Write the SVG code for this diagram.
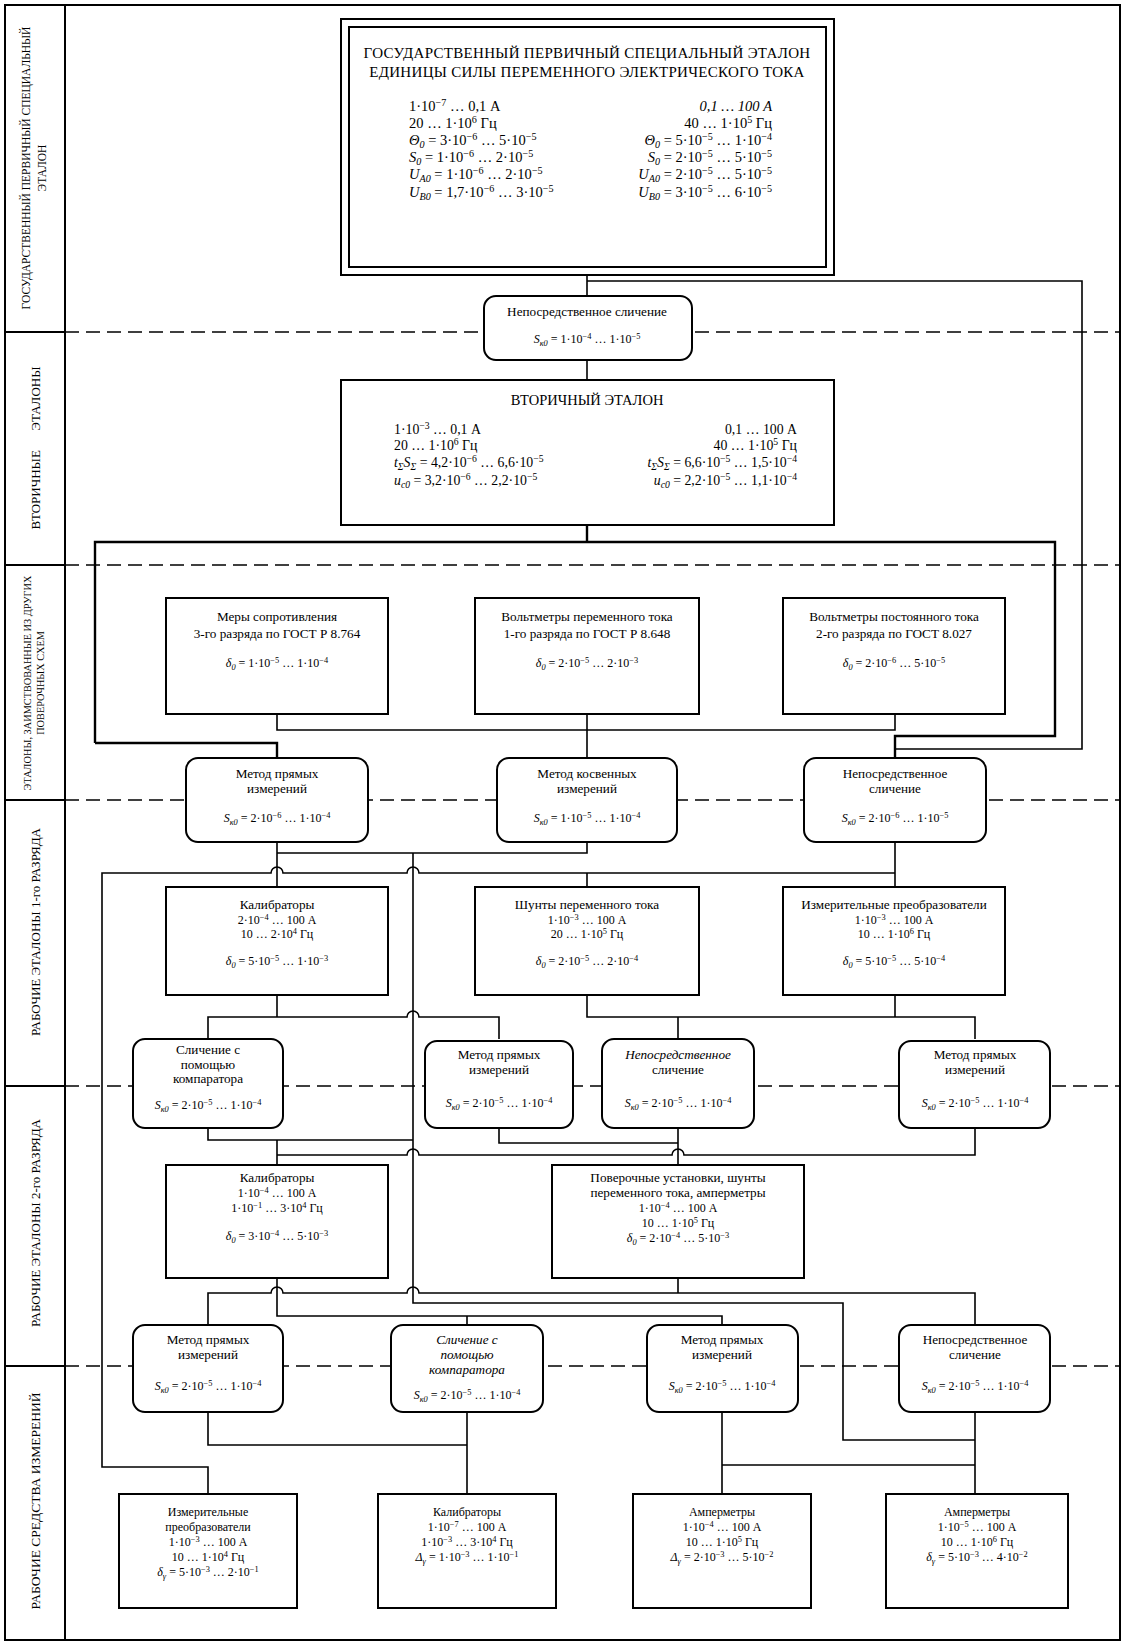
<svg xmlns="http://www.w3.org/2000/svg" width="1124" height="1646" viewBox="0 0 1124 1646">
<style>
text{font-family:"Liberation Serif","DejaVu Serif",serif;fill:#000}
.s{font-size:12px;text-anchor:middle}
.n{font-size:13.2px}
.m{font-size:14.5px}
.m2{font-size:13.8px}
.e{text-anchor:end}
.ttl{font-size:15px;text-anchor:middle;letter-spacing:0.3px}
.lab{font-size:11.5px;text-anchor:middle}
.lab2{font-size:13px;text-anchor:middle}
.sp{font-size:70%;baseline-shift:super}
.sb{font-size:70%;baseline-shift:-0.3em}
.i{font-style:italic}
.box{fill:#fff;stroke:#000;stroke-width:2}
.ln{fill:none;stroke:#000;stroke-width:1.6}
.th{fill:none;stroke:#000;stroke-width:2.4}
.dash{fill:none;stroke:#000;stroke-width:1.3;stroke-dasharray:14 7}
.frm{fill:none;stroke:#000;stroke-width:2}
</style>
<rect x="0" y="0" width="1124" height="1646" fill="#fff"/>

<g id="frame">
<rect class="frm" x="5" y="5" width="1115" height="1635"/>
<line class="frm" x1="65" y1="5" x2="65" y2="1640"/>
<path class="frm" d="M5 332H65M5 565H65M5 800H65M5 1086H65M5 1366H65"/>
<path class="dash" d="M65 332H1120M65 565H1120M65 800H1120M65 1086H1120M65 1366H1120"/>
</g>

<g id="labels">
<text class="lab" transform="translate(30 168) rotate(-90)">ГОСУДАРСТВЕННЫЙ ПЕРВИЧНЫЙ СПЕЦИАЛЬНЫЙ</text>
<text class="lab" transform="translate(46 168) rotate(-90)">ЭТАЛОН</text>
<text class="lab2" transform="translate(40 448) rotate(-90)" xml:space="preserve">ВТОРИЧНЫЕ      ЭТАЛОНЫ</text>
<text class="lab" style="font-size:10.3px" transform="translate(31 683) rotate(-90)">ЭТАЛОНЫ, ЗАИМСТВОВАННЫЕ ИЗ ДРУГИХ</text>
<text class="lab" style="font-size:10.3px" transform="translate(44 683) rotate(-90)">ПОВЕРОЧНЫХ СХЕМ</text>
<text class="lab2" transform="translate(40 932) rotate(-90)">РАБОЧИЕ ЭТАЛОНЫ 1-го РАЗРЯДА</text>
<text class="lab2" transform="translate(40 1223) rotate(-90)">РАБОЧИЕ ЭТАЛОНЫ 2-го РАЗРЯДА</text>
<text class="lab2" style="font-size:13.5px" transform="translate(40 1501) rotate(-90)">РАБОЧИЕ СРЕДСТВА ИЗМЕРЕНИЙ</text>
</g>

<g id="connectors">
<path class="ln" d="M587 275V296M587 281H1082V749H895"/>
<path class="ln" d="M587 360V380"/>
<path class="th" d="M587 525V542M95 743V542H1055V736H895V758M95 743H277V758"/>
<path class="ln" d="M277 714V730H895V714M587 714V758"/>
<path class="ln" d="M277 842V887M587 842V853H277"/>
<path class="ln" d="M413 853V1303H843V1440H975"/>
<path class="ln" d="M895 842V887M208 1494V1467H102V873H271a6 6 0 0 1 12 0H407a6 6 0 0 1 12 0H895M587 873V887"/>
<path class="ln" d="M277 995V1017M208 1039V1017H407a6 6 0 0 1 12 0H499V1039"/>
<path class="ln" d="M587 995V1017H975V1039M895 995V1017M678 1017V1039"/>
<path class="ln" d="M208 1128V1140H413M277 1140V1165"/>
<path class="ln" d="M499 1128V1143H678M678 1128V1165"/>
<path class="ln" d="M277 1155H407a6 6 0 0 1 12 0H672a6 6 0 0 1 12 0H975V1128"/>
<path class="ln" d="M208 1325V1293H271a6 6 0 0 1 12 0H407a6 6 0 0 1 12 0H975V1325M678 1278V1293"/>
<path class="ln" d="M277 1278V1316H722V1325M467 1316V1325"/>
<path class="ln" d="M208 1412V1445H467M467 1412V1494"/>
<path class="ln" d="M722 1412V1494M975 1412V1494M722 1465H975"/>
</g>

<g id="n-top">
<rect class="box" x="341" y="19" width="493" height="256" stroke-width="2.4"/>
<rect class="box" x="349" y="27" width="477" height="240" stroke-width="2.4"/>
<text class="ttl" x="587" y="58">ГОСУДАРСТВЕННЫЙ ПЕРВИЧНЫЙ СПЕЦИАЛЬНЫЙ ЭТАЛОН</text>
<text class="ttl" x="587" y="77">ЕДИНИЦЫ СИЛЫ ПЕРЕМЕННОГО ЭЛЕКТРИЧЕСКОГО ТОКА</text>
<text class="m" x="409" y="111">1·10<tspan class="sp">−7</tspan> … 0,1 А</text>
<text class="m" x="409" y="128">20 … 1·10<tspan class="sp">6</tspan> Гц</text>
<text class="m" x="409" y="145"><tspan class="i">Θ</tspan><tspan class="sb i">0</tspan> = 3·10<tspan class="sp">−6</tspan> … 5·10<tspan class="sp">−5</tspan></text>
<text class="m" x="409" y="162"><tspan class="i">S</tspan><tspan class="sb i">0</tspan> = 1·10<tspan class="sp">−6</tspan> … 2·10<tspan class="sp">−5</tspan></text>
<text class="m" x="409" y="179"><tspan class="i">U</tspan><tspan class="sb i">A0</tspan> = 1·10<tspan class="sp">−6</tspan> … 2·10<tspan class="sp">−5</tspan></text>
<text class="m" x="409" y="197"><tspan class="i">U</tspan><tspan class="sb i">B0</tspan> = 1,7·10<tspan class="sp">−6</tspan> … 3·10<tspan class="sp">−5</tspan></text>
<text class="m e i" x="772" y="111">0,1 … 100 А</text>
<text class="m e" x="772" y="128">40 … 1·10<tspan class="sp">5</tspan> Гц</text>
<text class="m e" x="772" y="145"><tspan class="i">Θ</tspan><tspan class="sb i">0</tspan> = 5·10<tspan class="sp">−5</tspan> … 1·10<tspan class="sp">−4</tspan></text>
<text class="m e" x="772" y="162"><tspan class="i">S</tspan><tspan class="sb i">0</tspan> = 2·10<tspan class="sp">−5</tspan> … 5·10<tspan class="sp">−5</tspan></text>
<text class="m e" x="772" y="179"><tspan class="i">U</tspan><tspan class="sb i">A0</tspan> = 2·10<tspan class="sp">−5</tspan> … 5·10<tspan class="sp">−5</tspan></text>
<text class="m e" x="772" y="197"><tspan class="i">U</tspan><tspan class="sb i">B0</tspan> = 3·10<tspan class="sp">−5</tspan> … 6·10<tspan class="sp">−5</tspan></text>
</g>

<g id="n-cmp0">
<rect class="box" x="484" y="296" width="208" height="64" rx="12"/>
<text class="s n" x="587" y="316">Непосредственное сличение</text>
<text class="s" x="587" y="343"><tspan class="i">S</tspan><tspan class="sb i">к0</tspan> = 1·10<tspan class="sp">−4</tspan> … 1·10<tspan class="sp">−5</tspan></text>
</g>

<g id="n-sec">
<rect class="box" x="341" y="380" width="493" height="145"/>
<text x="587" y="405" style="font-size:14.5px;text-anchor:middle">ВТОРИЧНЫЙ ЭТАЛОН</text>
<text class="m2" x="394" y="434">1·10<tspan class="sp">−3</tspan> … 0,1 А</text>
<text class="m2" x="394" y="450">20 … 1·10<tspan class="sp">6</tspan> Гц</text>
<text class="m2" x="394" y="467"><tspan class="i">t</tspan><tspan class="sb i">Σ</tspan><tspan class="i">S</tspan><tspan class="sb i">Σ</tspan> = 4,2·10<tspan class="sp">−6</tspan> … 6,6·10<tspan class="sp">−5</tspan></text>
<text class="m2" x="394" y="485"><tspan class="i">u</tspan><tspan class="sb i">c0</tspan> = 3,2·10<tspan class="sp">−6</tspan> … 2,2·10<tspan class="sp">−5</tspan></text>
<text class="m2 e" x="797" y="434">0,1 … 100 А</text>
<text class="m2 e" x="797" y="450">40 … 1·10<tspan class="sp">5</tspan> Гц</text>
<text class="m2 e" x="797" y="467"><tspan class="i">t</tspan><tspan class="sb i">Σ</tspan><tspan class="i">S</tspan><tspan class="sb i">Σ</tspan> = 6,6·10<tspan class="sp">−5</tspan> … 1,5·10<tspan class="sp">−4</tspan></text>
<text class="m2 e" x="797" y="485"><tspan class="i">u</tspan><tspan class="sb i">c0</tspan> = 2,2·10<tspan class="sp">−5</tspan> … 1,1·10<tspan class="sp">−4</tspan></text>
</g>

<g id="n-mery">
<rect class="box" x="166" y="598" width="222" height="116"/>
<text class="s n" x="277" y="621">Меры сопротивления</text>
<text class="s n" x="277" y="638">3-го разряда по ГОСТ Р 8.764</text>
<text class="s" x="277" y="667"><tspan class="i">δ</tspan><tspan class="sb i">0</tspan> = 1·10<tspan class="sp">−5</tspan> … 1·10<tspan class="sp">−4</tspan></text>
</g>
<g id="n-vpe">
<rect class="box" x="475" y="598" width="224" height="116"/>
<text class="s n" x="587" y="621">Вольтметры переменного тока</text>
<text class="s n" x="587" y="638">1-го разряда по ГОСТ Р 8.648</text>
<text class="s" x="587" y="667"><tspan class="i">δ</tspan><tspan class="sb i">0</tspan> = 2·10<tspan class="sp">−5</tspan> … 2·10<tspan class="sp">−3</tspan></text>
</g>
<g id="n-vpo">
<rect class="box" x="783" y="598" width="222" height="116"/>
<text class="s n" x="894" y="621">Вольтметры постоянного тока</text>
<text class="s n" x="894" y="638">2-го разряда по ГОСТ 8.027</text>
<text class="s" x="894" y="667"><tspan class="i">δ</tspan><tspan class="sb i">0</tspan> = 2·10<tspan class="sp">−6</tspan> … 5·10<tspan class="sp">−5</tspan></text>
</g>

<g id="n-m1">
<rect class="box" x="186" y="758" width="182" height="84" rx="12"/>
<text class="s n" x="277" y="778">Метод прямых</text>
<text class="s n" x="277" y="793">измерений</text>
<text class="s" x="277" y="822"><tspan class="i">S</tspan><tspan class="sb i">к0</tspan> = 2·10<tspan class="sp">−6</tspan> … 1·10<tspan class="sp">−4</tspan></text>
</g>
<g id="n-m2">
<rect class="box" x="497" y="758" width="180" height="84" rx="12"/>
<text class="s n" x="587" y="778">Метод косвенных</text>
<text class="s n" x="587" y="793">измерений</text>
<text class="s" x="587" y="822"><tspan class="i">S</tspan><tspan class="sb i">к0</tspan> = 1·10<tspan class="sp">−5</tspan> … 1·10<tspan class="sp">−4</tspan></text>
</g>
<g id="n-m3">
<rect class="box" x="804" y="758" width="182" height="84" rx="12"/>
<text class="s n" x="895" y="778">Непосредственное</text>
<text class="s n" x="895" y="793">сличение</text>
<text class="s" x="895" y="822"><tspan class="i">S</tspan><tspan class="sb i">к0</tspan> = 2·10<tspan class="sp">−6</tspan> … 1·10<tspan class="sp">−5</tspan></text>
</g>

<g id="n-kal1">
<rect class="box" x="166" y="887" width="222" height="108"/>
<text class="s n" x="277" y="909">Калибраторы</text>
<text class="s" x="277" y="924">2·10<tspan class="sp">−4</tspan> … 100 А</text>
<text class="s" x="277" y="938">10 … 2·10<tspan class="sp">4</tspan> Гц</text>
<text class="s" x="277" y="965"><tspan class="i">δ</tspan><tspan class="sb i">0</tspan> = 5·10<tspan class="sp">−5</tspan> … 1·10<tspan class="sp">−3</tspan></text>
</g>
<g id="n-shunt">
<rect class="box" x="475" y="887" width="224" height="108"/>
<text class="s n" x="587" y="909">Шунты переменного тока</text>
<text class="s" x="587" y="924">1·10<tspan class="sp">−3</tspan> … 100 А</text>
<text class="s" x="587" y="938">20 … 1·10<tspan class="sp">5</tspan> Гц</text>
<text class="s" x="587" y="965"><tspan class="i">δ</tspan><tspan class="sb i">0</tspan> = 2·10<tspan class="sp">−5</tspan> … 2·10<tspan class="sp">−4</tspan></text>
</g>
<g id="n-izm1">
<rect class="box" x="783" y="887" width="222" height="108"/>
<text class="s n" x="894" y="909">Измерительные преобразователи</text>
<text class="s" x="894" y="924">1·10<tspan class="sp">−3</tspan> … 100 А</text>
<text class="s" x="894" y="938">10 … 1·10<tspan class="sp">6</tspan> Гц</text>
<text class="s" x="894" y="965"><tspan class="i">δ</tspan><tspan class="sb i">0</tspan> = 5·10<tspan class="sp">−5</tspan> … 5·10<tspan class="sp">−4</tspan></text>
</g>

<g id="n-r6a">
<rect class="box" x="133" y="1039" width="150" height="89" rx="12"/>
<text class="s n" x="208" y="1054">Сличение с</text>
<text class="s n" x="208" y="1069">помощью</text>
<text class="s n" x="208" y="1083">компаратора</text>
<text class="s" x="208" y="1109"><tspan class="i">S</tspan><tspan class="sb i">к0</tspan> = 2·10<tspan class="sp">−5</tspan> … 1·10<tspan class="sp">−4</tspan></text>
</g>
<g id="n-r6b">
<rect class="box" x="425" y="1041" width="148" height="87" rx="12"/>
<text class="s n" x="499" y="1059">Метод прямых</text>
<text class="s n" x="499" y="1074">измерений</text>
<text class="s" x="499" y="1107"><tspan class="i">S</tspan><tspan class="sb i">к0</tspan> = 2·10<tspan class="sp">−5</tspan> … 1·10<tspan class="sp">−4</tspan></text>
</g>
<g id="n-r6c">
<rect class="box" x="602" y="1039" width="152" height="89" rx="12"/>
<text class="s n i" x="678" y="1059">Непосредственное</text>
<text class="s n" x="678" y="1074">сличение</text>
<text class="s" x="678" y="1107"><tspan class="i">S</tspan><tspan class="sb i">к0</tspan> = 2·10<tspan class="sp">−5</tspan> … 1·10<tspan class="sp">−4</tspan></text>
</g>
<g id="n-r6d">
<rect class="box" x="899" y="1041" width="151" height="87" rx="12"/>
<text class="s n" x="975" y="1059">Метод прямых</text>
<text class="s n" x="975" y="1074">измерений</text>
<text class="s" x="975" y="1107"><tspan class="i">S</tspan><tspan class="sb i">к0</tspan> = 2·10<tspan class="sp">−5</tspan> … 1·10<tspan class="sp">−4</tspan></text>
</g>

<g id="n-kal2">
<rect class="box" x="166" y="1165" width="222" height="113"/>
<text class="s n" x="277" y="1182">Калибраторы</text>
<text class="s" x="277" y="1197">1·10<tspan class="sp">−4</tspan> … 100 А</text>
<text class="s" x="277" y="1212">1·10<tspan class="sp">−1</tspan> … 3·10<tspan class="sp">4</tspan> Гц</text>
<text class="s" x="277" y="1240"><tspan class="i">δ</tspan><tspan class="sb i">0</tspan> = 3·10<tspan class="sp">−4</tspan> … 5·10<tspan class="sp">−3</tspan></text>
</g>
<g id="n-pov">
<rect class="box" x="552" y="1165" width="252" height="113"/>
<text class="s n" x="678" y="1182">Поверочные установки, шунты</text>
<text class="s n" x="678" y="1197">переменного тока, амперметры</text>
<text class="s" x="678" y="1212">1·10<tspan class="sp">−4</tspan> … 100 А</text>
<text class="s" x="678" y="1227">10 … 1·10<tspan class="sp">5</tspan> Гц</text>
<text class="s" x="678" y="1242"><tspan class="i">δ</tspan><tspan class="sb i">0</tspan> = 2·10<tspan class="sp">−4</tspan> … 5·10<tspan class="sp">−3</tspan></text>
</g>

<g id="n-r8a">
<rect class="box" x="133" y="1325" width="150" height="87" rx="12"/>
<text class="s n" x="208" y="1344">Метод прямых</text>
<text class="s n" x="208" y="1359">измерений</text>
<text class="s" x="208" y="1390"><tspan class="i">S</tspan><tspan class="sb i">к0</tspan> = 2·10<tspan class="sp">−5</tspan> … 1·10<tspan class="sp">−4</tspan></text>
</g>
<g id="n-r8b">
<rect class="box" x="391" y="1325" width="152" height="87" rx="12"/>
<text class="s n i" x="467" y="1344">Сличение с</text>
<text class="s n i" x="467" y="1359">помощью</text>
<text class="s n i" x="467" y="1374">компаратора</text>
<text class="s" x="467" y="1399"><tspan class="i">S</tspan><tspan class="sb i">к0</tspan> = 2·10<tspan class="sp">−5</tspan> … 1·10<tspan class="sp">−4</tspan></text>
</g>
<g id="n-r8c">
<rect class="box" x="647" y="1325" width="151" height="87" rx="12"/>
<text class="s n" x="722" y="1344">Метод прямых</text>
<text class="s n" x="722" y="1359">измерений</text>
<text class="s" x="722" y="1390"><tspan class="i">S</tspan><tspan class="sb i">к0</tspan> = 2·10<tspan class="sp">−5</tspan> … 1·10<tspan class="sp">−4</tspan></text>
</g>
<g id="n-r8d">
<rect class="box" x="899" y="1325" width="151" height="87" rx="12"/>
<text class="s n" x="975" y="1344">Непосредственное</text>
<text class="s n" x="975" y="1359">сличение</text>
<text class="s" x="975" y="1390"><tspan class="i">S</tspan><tspan class="sb i">к0</tspan> = 2·10<tspan class="sp">−5</tspan> … 1·10<tspan class="sp">−4</tspan></text>
</g>

<g id="n-r9a">
<rect class="box" x="119" y="1494" width="178" height="114"/>
<text class="s" x="208" y="1516">Измерительные</text>
<text class="s" x="208" y="1531">преобразователи</text>
<text class="s" x="208" y="1546">1·10<tspan class="sp">−3</tspan> … 100 А</text>
<text class="s" x="208" y="1561">10 … 1·10<tspan class="sp">4</tspan> Гц</text>
<text class="s" x="208" y="1576"><tspan class="i">δ</tspan><tspan class="sb i">γ</tspan> = 5·10<tspan class="sp">−3</tspan> … 2·10<tspan class="sp">−1</tspan></text>
</g>
<g id="n-r9b">
<rect class="box" x="378" y="1494" width="178" height="114"/>
<text class="s" x="467" y="1516">Калибраторы</text>
<text class="s" x="467" y="1531">1·10<tspan class="sp">−7</tspan> … 100 А</text>
<text class="s" x="467" y="1546">1·10<tspan class="sp">−3</tspan> … 3·10<tspan class="sp">4</tspan> Гц</text>
<text class="s" x="467" y="1561"><tspan class="i">Δ</tspan><tspan class="sb i">γ</tspan> = 1·10<tspan class="sp">−3</tspan> … 1·10<tspan class="sp">−1</tspan></text>
</g>
<g id="n-r9c">
<rect class="box" x="633" y="1494" width="178" height="114"/>
<text class="s" x="722" y="1516">Амперметры</text>
<text class="s" x="722" y="1531">1·10<tspan class="sp">−4</tspan> … 100 А</text>
<text class="s" x="722" y="1546">10 … 1·10<tspan class="sp">5</tspan> Гц</text>
<text class="s" x="722" y="1561"><tspan class="i">Δ</tspan><tspan class="sb i">γ</tspan> = 2·10<tspan class="sp">−3</tspan> … 5·10<tspan class="sp">−2</tspan></text>
</g>
<g id="n-r9d">
<rect class="box" x="886" y="1494" width="182" height="114"/>
<text class="s" x="977" y="1516">Амперметры</text>
<text class="s" x="977" y="1531">1·10<tspan class="sp">−5</tspan> … 100 А</text>
<text class="s" x="977" y="1546">10 … 1·10<tspan class="sp">6</tspan> Гц</text>
<text class="s" x="977" y="1561"><tspan class="i">δ</tspan><tspan class="sb i">γ</tspan> = 5·10<tspan class="sp">−3</tspan> … 4·10<tspan class="sp">−2</tspan></text>
</g>
</svg>
